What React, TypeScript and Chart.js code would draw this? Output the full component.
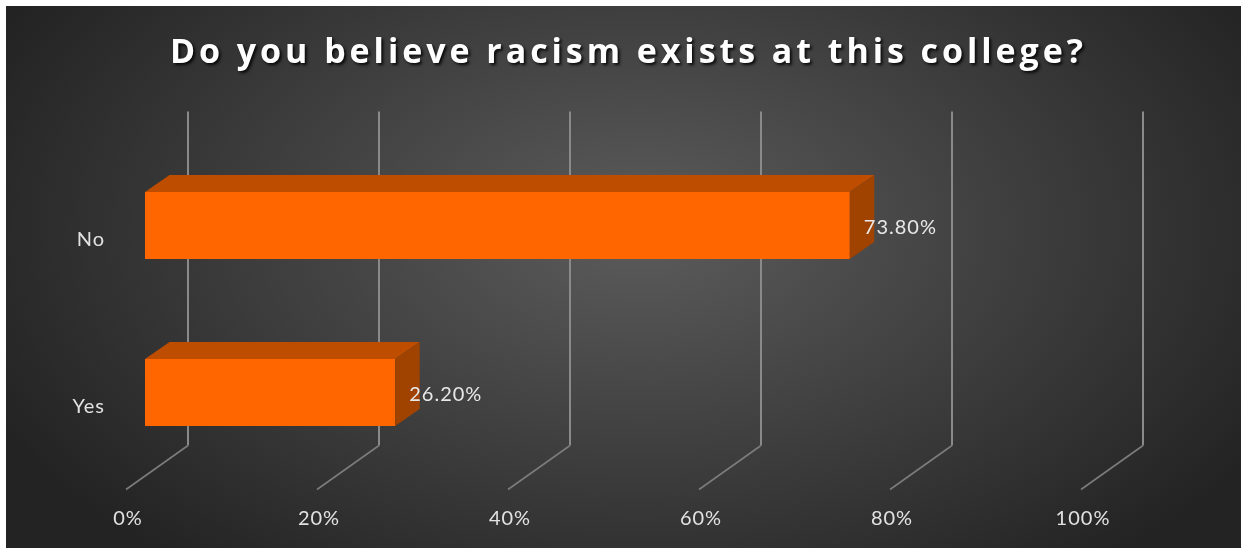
import { useEffect, useRef } from "react";
import { Chart, registerables } from "chart.js";

Chart.register(...registerables);

const categories = ["No", "Yes"];
const values = [73.8, 26.2];
const valueLabels = ["73.80%", "26.20%"];
const tickValues = [0, 20, 40, 60, 80, 100];
const titleText = "Do you believe racism exists at this college?";

const W = 1244;
const H = 548;
const DEPTH_X = 24.5;
const DEPTH_Y = -17;
const WALL_X = 43;
const WALL_Y = -30.5;
const FLOOR_X = -19;
const FLOOR_Y = 13.5;
const FONT = "Lato, 'Open Sans', sans-serif";

const excel3d = {
  id: "excel3d",
  beforeDraw(chart: any) {
    const ctx = chart.ctx as CanvasRenderingContext2D;
    ctx.save();
    ctx.fillStyle = "#ffffff";
    ctx.fillRect(0, 0, W, H);
    ctx.beginPath();
    ctx.rect(6, 6, 1235, 542);
    ctx.clip();
    const cx = 640;
    const cy = 230;
    const sy = 0.6;
    ctx.translate(cx, cy);
    ctx.scale(1, sy);
    const g = ctx.createRadialGradient(0, 0, 0, 0, 0, 720);
    g.addColorStop(0, "#5c5c5c");
    g.addColorStop(1, "#232323");
    ctx.fillStyle = g;
    ctx.fillRect(-cx, -cy / sy, W, H / sy);
    ctx.restore();

    // title
    ctx.save();
    ctx.font = "bold 34px 'Open Sans', sans-serif";
    ctx.textBaseline = "alphabetic";
    ctx.textAlign = "left";
    const target = 913;
    const w0 = ctx.measureText(titleText).width;
    const n = titleText.length;
    const spacing = (target - w0) / (n - 1);
    (ctx as any).letterSpacing = `${spacing}px`;
    const startX = 626.5 - target / 2;
    ctx.shadowColor = "rgba(0,0,0,0.85)";
    ctx.shadowOffsetX = 2;
    ctx.shadowOffsetY = 2;
    ctx.shadowBlur = 3;
    ctx.fillStyle = "#ffffff";
    ctx.fillText(titleText, startX, 63);
    ctx.restore();
  },
  beforeDatasetsDraw(chart: any) {
    const ctx = chart.ctx as CanvasRenderingContext2D;
    const xs = chart.scales.x;
    const ys = chart.scales.y;
    const { top, bottom, left } = chart.chartArea;
    ctx.save();
    ctx.lineCap = "butt";
    tickValues.forEach((v) => {
      const x = xs.getPixelForValue(v);
      ctx.strokeStyle = "#8a8a8a";
      ctx.lineWidth = 2;
      ctx.beginPath();
      ctx.moveTo(x + WALL_X, top + WALL_Y);
      ctx.lineTo(x + WALL_X, bottom + WALL_Y);
      ctx.stroke();
      ctx.strokeStyle = "#7c7c7c";
      ctx.lineWidth = 1.6;
      ctx.beginPath();
      ctx.moveTo(x + WALL_X, bottom + WALL_Y);
      ctx.lineTo(x + FLOOR_X, bottom + FLOOR_Y);
      ctx.stroke();
    });
    // tick labels
    ctx.fillStyle = "#e2e2e2";
    ctx.font = `20px ${FONT}`;
    (ctx as any).letterSpacing = "1px";
    ctx.textAlign = "center";
    ctx.textBaseline = "middle";
    tickValues.forEach((v) => {
      const x = xs.getPixelForValue(v);
      ctx.fillText(`${v}%`, x + FLOOR_X + 2, bottom + FLOOR_Y + 29.5);
    });
    // category labels
    ctx.textAlign = "right";
    categories.forEach((c, i) => {
      const y = ys.getPixelForValue(i);
      ctx.fillText(c, left + FLOOR_X - 21, y + FLOOR_Y + 1);
    });
    ctx.restore();
  },
  afterDatasetsDraw(chart: any) {
    const ctx = chart.ctx as CanvasRenderingContext2D;
    const meta = chart.getDatasetMeta(0);
    ctx.save();
    meta.data.forEach((el: any, i: number) => {
      const { x, y, base, height } = el.getProps(["x", "y", "base", "height"], true);
      const t = y - height / 2;
      const b = y + height / 2;
      ctx.fillStyle = "#BF4D00";
      ctx.beginPath();
      ctx.moveTo(base, t);
      ctx.lineTo(x, t);
      ctx.lineTo(x + DEPTH_X, t + DEPTH_Y);
      ctx.lineTo(base + DEPTH_X, t + DEPTH_Y);
      ctx.closePath();
      ctx.fill();
      ctx.fillStyle = "#A04200";
      ctx.beginPath();
      ctx.moveTo(x, t);
      ctx.lineTo(x + DEPTH_X, t + DEPTH_Y);
      ctx.lineTo(x + DEPTH_X, b + DEPTH_Y);
      ctx.lineTo(x, b);
      ctx.closePath();
      ctx.fill();
      ctx.fillStyle = "#e8e8e8";
      ctx.font = `20px ${FONT}`;
      (ctx as any).letterSpacing = "1px";
      ctx.textAlign = "left";
      ctx.textBaseline = "middle";
      ctx.fillText(valueLabels[i], x + 14, y + 2);
    });
    ctx.restore();
  },
};

export default function App() {
  const ref = useRef<HTMLCanvasElement | null>(null);
  useEffect(() => {
    if (!ref.current) return;
    const chart = new Chart(ref.current, {
      type: "bar",
      data: {
        labels: categories,
        datasets: [
          {
            data: values,
            backgroundColor: "#FF6600",
            borderWidth: 0,
            barPercentage: 0.4,
            categoryPercentage: 1,
          },
        ],
      },
      options: {
        indexAxis: "y",
        responsive: false,
        animation: false,
        devicePixelRatio: 1,
        layout: { padding: { left: 145, right: 144, top: 142, bottom: 72 } },
        scales: {
          x: { display: false, min: 0, max: 100 },
          y: { display: false },
        },
        plugins: {
          legend: { display: false },
          tooltip: { enabled: false },
          title: { display: false },
        },
      },
      plugins: [excel3d],
    });
    return () => chart.destroy();
  }, []);
  return (
    <div style={{ position: "absolute", left: 0, top: 0, width: W, height: H }}>
      <canvas ref={ref} width={W} height={H} style={{ display: "block" }} />
    </div>
  );
}
